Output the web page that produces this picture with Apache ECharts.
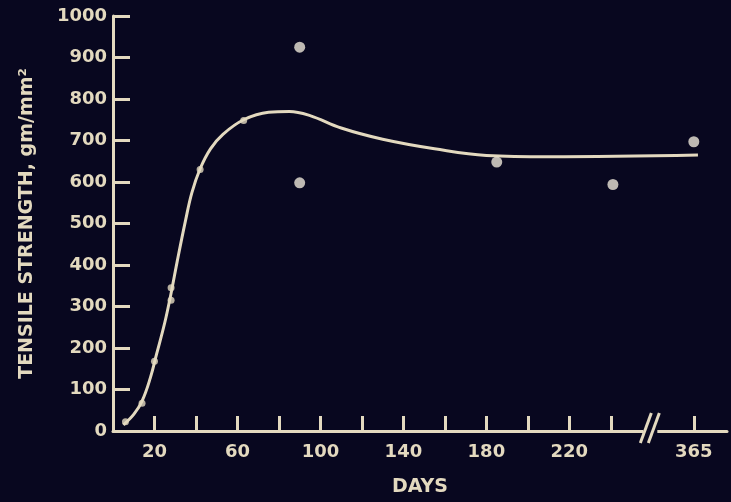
<!DOCTYPE html>
<html>
<head>
<meta charset="utf-8">
<script src="https://cdn.jsdelivr.net/npm/echarts@6/dist/echarts.min.js"></script>
<style>
html,body{margin:0;padding:0;background:#08071f;}
#c{width:731px;height:502px;}
</style>
</head>
<body>
<div id="c"></div>
<script>
// ---- data (days, tensile strength gm/mm^2) ----
const measuredDaysOnCurve = [6, 14, 20, 28, 28, 42, 63];
const measuredStrengthOnCurve = [22, 67, 168, 345, 315, 630, 748];
const measuredDaysOff = [90, 90, 185, 241, 365];
const measuredStrengthOff = [925, 598, 648, 594, 697];
const curveDays = [5, 10, 14, 18, 21, 25, 28, 31, 35, 38, 42, 47, 53, 63, 75, 85, 95, 110, 130, 155, 180, 210, 367];
const curveStrength = [15, 40, 72, 128, 185, 262, 332, 410, 508, 574, 632, 680, 715, 750, 768, 770, 760, 730, 703, 680, 664, 661, 665];
const xTickDays = [20, 40, 60, 80, 100, 120, 140, 160, 180, 200, 220, 240, 365];
const xLabelDays = [20, 60, 100, 140, 180, 220, 365];
const yTicks = [0, 100, 200, 300, 400, 500, 600, 700, 800, 900, 1000];

// axis break: days beyond BREAK_AT are shifted left by BREAK_SHIFT
const BREAK_AT = 250, BREAK_SHIFT = 85, BREAK_MARK = 260;
const toAxis = d => d > BREAK_AT ? d - BREAK_SHIFT : d;
const toDay = p => p > BREAK_AT ? p + BREAK_SHIFT : p;

const fg = '#e3d9bf';
const font = '"DejaVu Sans", sans-serif';

const chart = echarts.init(document.getElementById('c'));
const option = {
  backgroundColor: '#08071f',
  animation: false,
  grid: { left: 113, right: 4, top: 16, bottom: 69 },
  xAxis: {
    type: 'value', min: 0, max: 296,
    name: 'DAYS', nameLocation: 'middle', nameGap: 47,
    nameTextStyle: { color: fg, fontSize: 19, fontWeight: 'bold', fontFamily: font },
    axisLine: { show: true, lineStyle: { color: fg, width: 3 } },
    axisTick: { show: true, inside: true, length: 15, lineStyle: { color: fg, width: 3 },
      customValues: xTickDays.map(toAxis) },
    axisLabel: { color: fg, fontSize: 18, fontWeight: 'bold', fontFamily: font, margin: 12,
      customValues: xLabelDays.map(toAxis),
      formatter: v => String(toDay(v)) },
    splitLine: { show: false }
  },
  yAxis: {
    type: 'value', min: 0, max: 1000, interval: 100,
    name: 'TENSILE STRENGTH, gm/mm²', nameLocation: 'middle', nameGap: 76,
    nameTextStyle: { color: fg, fontSize: 19, fontWeight: 'bold', fontFamily: font },
    axisLine: { show: true, lineStyle: { color: fg, width: 3 } },
    axisTick: { show: true, inside: true, length: 17, lineStyle: { color: fg, width: 3 },
      customValues: yTicks.slice(1) },
    axisLabel: { color: fg, fontSize: 18, fontWeight: 'bold', fontFamily: font, margin: 6,
      customValues: yTicks, formatter: v => String(v) },
    splitLine: { show: false }
  },
  series: [
    {
      type: 'line', smooth: 0.4, showSymbol: false,
      lineStyle: { color: fg, width: 3 },
      data: curveDays.map((d, i) => [toAxis(d), curveStrength[i]]),
      z: 2
    },
    {
      type: 'scatter', symbolSize: 7,
      itemStyle: { color: fg },
      data: measuredDaysOnCurve.map((d, i) => [toAxis(d), measuredStrengthOnCurve[i]]),
      z: 3
    },
    {
      type: 'scatter', symbolSize: 11,
      itemStyle: { color: '#ece6d8' },
      data: measuredDaysOff.map((d, i) => [toAxis(d), measuredStrengthOff[i]]),
      z: 3
    }
  ]
};
chart.setOption(option);

// draw the "//" break mark on the x axis
const p = chart.convertToPixel({ gridIndex: 0 }, [BREAK_MARK, 0]);
chart.setOption({
  graphic: [
    { type: 'rect', shape: { x: p[0] - 9, y: p[1] - 3, width: 14, height: 6 }, style: { fill: '#08071f' }, z: 10 },
    { type: 'line', shape: { x1: p[0] - 12, y1: p[1] + 12, x2: p[0] - 1, y2: p[1] - 18 }, style: { stroke: fg, lineWidth: 3 }, z: 11 },
    { type: 'line', shape: { x1: p[0] - 4, y1: p[1] + 12, x2: p[0] + 7, y2: p[1] - 18 }, style: { stroke: fg, lineWidth: 3 }, z: 11 }
  ]
});
</script>
</body>
</html>
